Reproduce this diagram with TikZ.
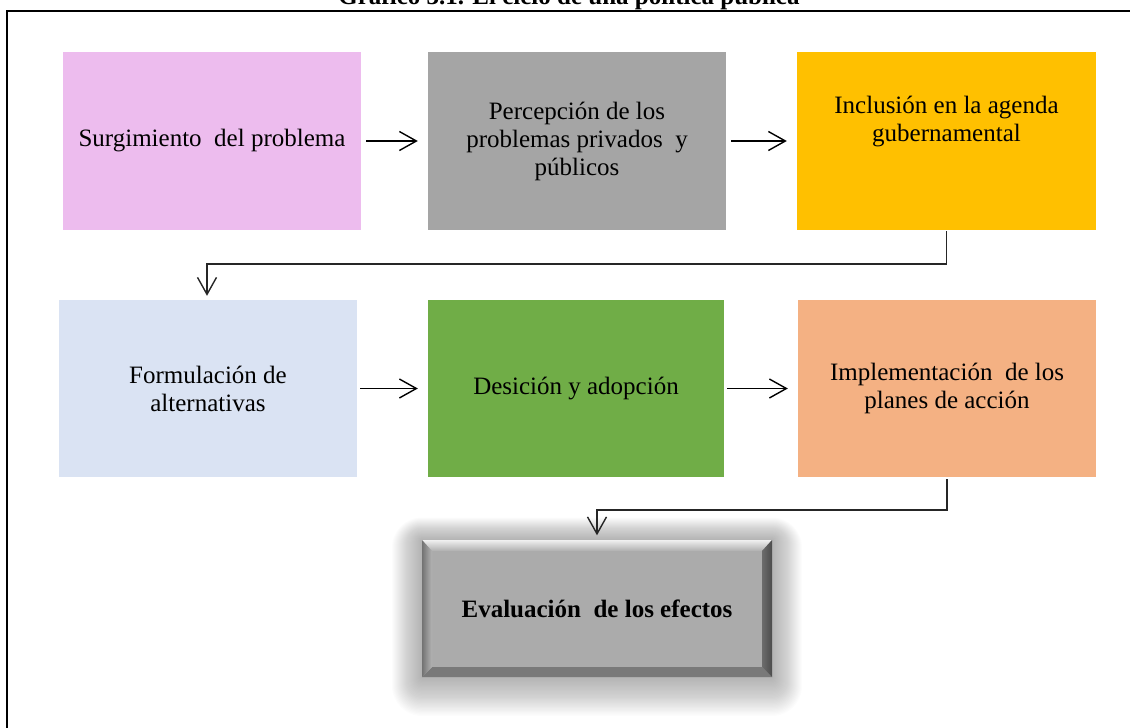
\documentclass[tikz,border=0pt]{standalone}
\usepackage{fontspec}
\setmainfont{Liberation Serif}
\usetikzlibrary{arrows.meta,positioning}

\definecolor{cPink}{HTML}{EDBCEE}
\definecolor{cGray}{HTML}{A5A5A5}
\definecolor{cGold}{HTML}{FFC000}
\definecolor{cBlue}{HTML}{DAE3F3}
\definecolor{cGreen}{HTML}{70AD47}
\definecolor{cPeach}{HTML}{F4B183}
\definecolor{cFace}{HTML}{ABABAB}

\tikzset{
  stage/.style={rectangle, inner sep=0pt, minimum width=298pt, minimum height=178pt,
    align=center, font=\fontsize{25}{28}\selectfont},
  flow/.style={-{Straight Barb[length=17pt,width=19pt,line width=1.4pt]}, line width=1.4pt, black},
  elbow/.style={-{Straight Barb[length=17pt,width=19pt,line width=1.4pt]}, line width=1.6pt, black!85},
}

\begin{document}
\begin{tikzpicture}[x=1pt,y=-1pt]
\useasboundingbox (0,0) rectangle (1130,728);

% title (partly above the page edge) and frame
\node[anchor=base, font=\bfseries\fontsize{25}{28}\selectfont, inner sep=0pt] (title) at (569,5)
  {Gráfico 3.1. El ciclo de una política pública};
\draw[line width=2.2pt] (7,760) -- (7,11) -- (1160,11);

% first row
\node[stage, fill=cPink] (b1) at (212,141) {Surgimiento\ \ del problema};
\node[stage, fill=cGray] (b2) at (577,141) {Percepción de los\\problemas privados\ \ y\\públicos};
\node[stage, fill=cGold, minimum width=299pt] (b3) at (946.5,141) {};
\node[font=\fontsize{25}{28}\selectfont, align=center] (t3) at (946.5,122) {Inclusión en la agenda\\gubernamental};

% second row
\node[stage, fill=cBlue, minimum height=177pt] (b4) at (208,388.5) {Formulación de\\alternativas};
\node[stage, fill=cGreen, minimum width=296pt, minimum height=177pt] (b5) at (576,388.5) {Desición y adopción};
\node[stage, fill=cPeach, minimum height=177pt] (b6) at (947,388.5) {Implementación\ \ de los\\planes de acción};

% soft glow behind the final box
\foreach \g in {1,...,30}{
  \fill[black, opacity=0.010, rounded corners=\g pt]
    (422-\g,540-\g*0.75) rectangle (772+\g,677+\g*1.3);
}
% bevelled final box
\fill[cFace] (422,540) rectangle (772,677);
\shade[top color=white!88!gray, bottom color=cFace!95!white] (422,540) -- (772,540) -- (762,551) -- (432,551) -- cycle;
\fill[gray!95!black] (422,677) -- (772,677) -- (762,667) -- (432,667) -- cycle;
\shade[left color=gray!90!black, right color=cFace!90!white] (422,540) -- (432,551) -- (432,667) -- (422,677) -- cycle;
\shade[left color=gray!85!black, right color=black!70] (772,540) -- (762,551) -- (762,667) -- (772,677) -- cycle;
\node[rectangle, minimum width=350pt, minimum height=137pt, inner sep=0pt,
  font=\bfseries\fontsize{25}{28}\selectfont] (b7) at (597,609) {Evaluación\ \ de los efectos};

% connectors
\draw[flow, shorten <=5pt, shorten >=10pt] (b1) -- (b2);
\draw[flow, shorten <=5pt, shorten >=10pt] (b2.east |- b1) -- (b3.west |- b1);
\draw[flow, shorten <=3pt, shorten >=10pt] (b4.east |- b5) -- (b5);
\draw[flow, shorten <=3pt, shorten >=10pt] (b5) -- (b6);
\draw[elbow] ([yshift=-1pt]b3.south) -- ++(0,33) -| ([xshift=-1pt,yshift=4pt]b4.north);
\draw[elbow] ([yshift=-2pt]b6.south) -- ++(0,31) -| ([yshift=5pt]b7.north);
\end{tikzpicture}
\end{document}
